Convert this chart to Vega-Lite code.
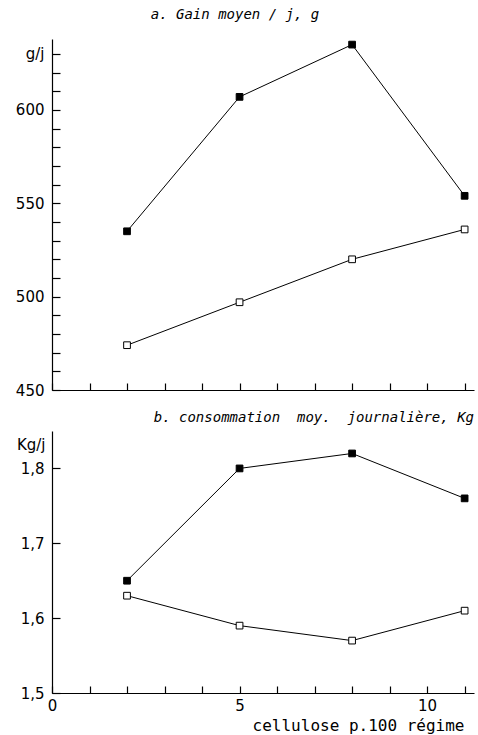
{
  "$schema": "https://vega.github.io/schema/vega-lite/v6.json",
  "background": "white",
  "padding": {"left": 15, "top": 8, "right": 3, "bottom": 3},
  "bounds": "flush",
  "spacing": 41,
  "config": {
    "view": {"stroke": null},
    "font": "DejaVu Sans",
    "axis": {
      "grid": false,
      "domainColor": "black",
      "tickColor": "black",
      "labelColor": "black",
      "titleColor": "black",
      "labelFont": "DejaVu Sans",
      "titleFont": "DejaVu Sans Mono",
      "labelFontSize": 15,
      "titleFontSize": 15,
      "titleFontWeight": "normal",
      "labelFlush": false,
      "labelOverlap": false,
      "domainWidth": 1.2,
      "tickWidth": 1.2
    },
    "title": {"color": "black", "font": "DejaVu Sans Mono", "fontStyle": "italic", "fontWeight": "normal", "fontSize": 14}
  },
  "datasets": {
    "gain": [
      {"cellulose": 2, "serie": "plein", "valeur": 535},
      {"cellulose": 5, "serie": "plein", "valeur": 607},
      {"cellulose": 8, "serie": "plein", "valeur": 635},
      {"cellulose": 11, "serie": "plein", "valeur": 554},
      {"cellulose": 2, "serie": "vide", "valeur": 474},
      {"cellulose": 5, "serie": "vide", "valeur": 497},
      {"cellulose": 8, "serie": "vide", "valeur": 520},
      {"cellulose": 11, "serie": "vide", "valeur": 536}
    ],
    "conso": [
      {"cellulose": 2, "serie": "plein", "valeur": 1.65},
      {"cellulose": 5, "serie": "plein", "valeur": 1.80},
      {"cellulose": 8, "serie": "plein", "valeur": 1.82},
      {"cellulose": 11, "serie": "plein", "valeur": 1.76},
      {"cellulose": 2, "serie": "vide", "valeur": 1.63},
      {"cellulose": 5, "serie": "vide", "valeur": 1.59},
      {"cellulose": 8, "serie": "vide", "valeur": 1.57},
      {"cellulose": 11, "serie": "vide", "valeur": 1.61}
    ]
  },
  "vconcat": [
    {
      "width": 422,
      "height": 351,
      "data": {"name": "gain"},
      "title": {"text": "a. Gain moyen / j, g", "anchor": "middle", "frame": "group", "dx": -28, "offset": 10, "baseline": "middle"},
      "encoding": {
        "x": {
          "field": "cellulose", "type": "quantitative",
          "scale": {"domain": [0, 11.25], "nice": false, "zero": false},
          "axis": {"values": [0,1,2,3,4,5,6,7,8,9,10,11], "labels": false, "tickSize": -7, "title": null}
        },
        "y": {
          "field": "valeur", "type": "quantitative",
          "scale": {"domain": [450, 638], "nice": false, "zero": false},
          "axis": {
            "values": [450,460,470,480,490,500,510,520,530,540,550,560,570,580,590,600,610,620,630],
            "labelExpr": "datum.value == 630 ? 'g/j' : (datum.value % 50 == 0 ? datum.label : '')",
            "tickSize": -8, "labelPadding": 16, "title": null, "labelBaseline": "middle"
          }
        }
      },
      "layer": [
        {"mark": {"type": "line", "color": "black", "strokeWidth": 1}, "encoding": {"detail": {"field": "serie"}}},
        {"mark": {"type": "point", "shape": "square", "size": 45, "stroke": "black", "strokeWidth": 1, "opacity": 1, "filled": true},
         "encoding": {"fill": {"field": "serie", "type": "nominal", "scale": {"domain": ["plein", "vide"], "range": ["black", "white"]}, "legend": null}}}
      ]
    },
    {
      "width": 422,
      "height": 262,
      "data": {"name": "conso"},
      "title": {"text": "b. consommation\u00a0\u00a0moy.\u00a0\u00a0journalière, Kg", "anchor": "end", "frame": "group", "offset": -1, "baseline": "middle"},
      "encoding": {
        "x": {
          "field": "cellulose", "type": "quantitative",
          "scale": {"domain": [0, 11.25], "nice": false, "zero": false},
          "axis": {
            "values": [0,1,2,3,4,5,6,7,8,9,10,11],
            "labelExpr": "datum.value % 5 == 0 ? datum.label : ''",
            "tickSize": -7, "labelPadding": 12,
            "title": "cellulose p.100 régime", "titleFontSize": 16, "titleAlign": "right", "titleAnchor": "end",
            "titleX": 412, "titleY": 32, "titleBaseline": "middle"
          }
        },
        "y": {
          "field": "valeur", "type": "quantitative",
          "scale": {"domain": [1.5, 1.85], "nice": false, "zero": false},
          "axis": {
            "values": [1.5, 1.6, 1.7, 1.8],
            "labelExpr": "replace(format(datum.value, '.1f'), '.', ',')",
            "tickSize": -8, "labelPadding": 16, "labelBaseline": "middle",
            "title": "Kg/j", "titleFont": "DejaVu Sans", "titleAngle": 0, "titleAlign": "right", "titleBaseline": "middle",
            "titleX": -7, "titleY": 13
          }
        }
      },
      "layer": [
        {"mark": {"type": "line", "color": "black", "strokeWidth": 1}, "encoding": {"detail": {"field": "serie"}}},
        {"mark": {"type": "point", "shape": "square", "size": 45, "stroke": "black", "strokeWidth": 1, "opacity": 1, "filled": true},
         "encoding": {"fill": {"field": "serie", "type": "nominal", "scale": {"domain": ["plein", "vide"], "range": ["black", "white"]}, "legend": null}}}
      ]
    }
  ]
}
